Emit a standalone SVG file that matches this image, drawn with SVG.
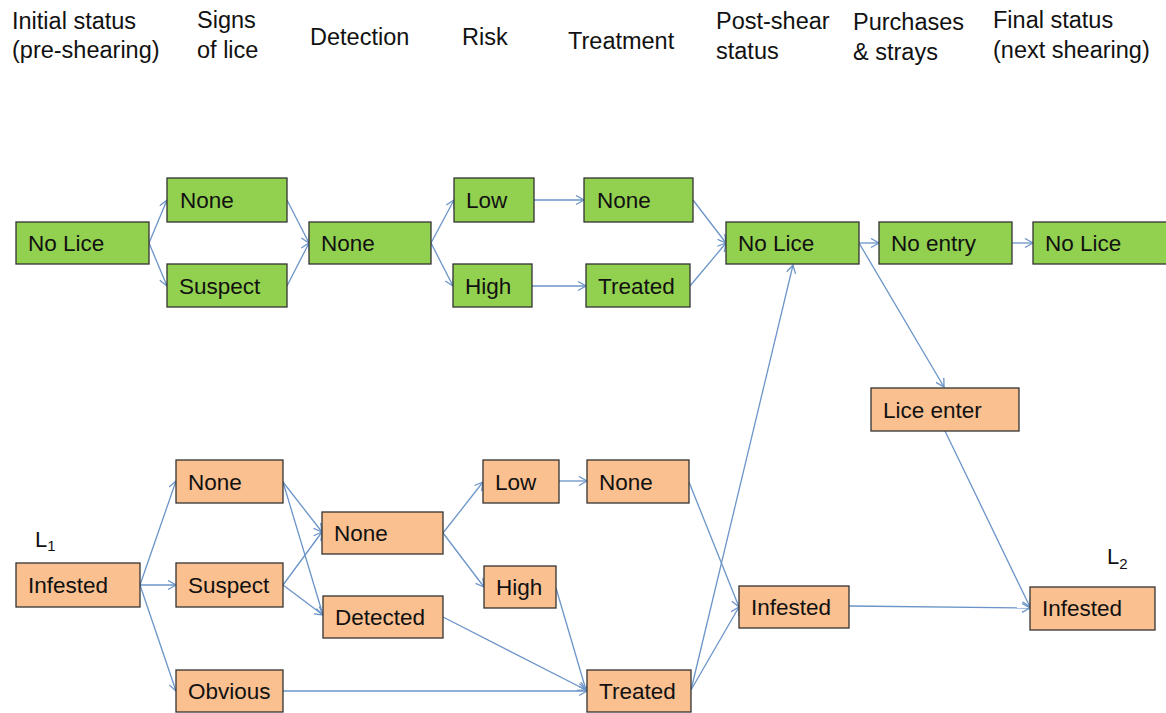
<svg xmlns="http://www.w3.org/2000/svg" width="1166" height="713" viewBox="0 0 1166 713">
<style>
text{font-family:"Liberation Sans",Arial,sans-serif;fill:#111}
.h{font-size:23.5px}
.t{font-size:22.5px}
.g{fill:#92d050;stroke:#333;stroke-width:1.3}
.o{fill:#fac090;stroke:#333;stroke-width:1.3}
.c line{stroke:#6b94c8;stroke-width:1.3;fill:none;marker-end:url(#a)}
</style>
<defs>
<marker id="a" markerUnits="userSpaceOnUse" markerWidth="12" markerHeight="12" refX="9" refY="5" orient="auto">
<path d="M1,0.5 L9,5 L1,9.5" fill="none" stroke="#6b94c8" stroke-width="1.3"/>
</marker>
</defs>
<rect width="1166" height="713" fill="#fff"/>
<g id="headers">
<text class="h" x="12" y="29">Initial status</text>
<text class="h" x="12" y="58">(pre-shearing)</text>
<text class="h" x="197" y="28">Signs</text>
<text class="h" x="197" y="58">of lice</text>
<text class="h" x="310" y="45">Detection</text>
<text class="h" x="462" y="45">Risk</text>
<text class="h" x="568" y="49">Treatment</text>
<text class="h" x="716" y="29">Post-shear</text>
<text class="h" x="716" y="59">status</text>
<text class="h" x="853" y="30">Purchases</text>
<text class="h" x="853" y="60">&amp; strays</text>
<text class="h" x="993" y="28">Final status</text>
<text class="h" x="993" y="58">(next shearing)</text>
</g>
<g id="labels">
<text x="35" y="547" font-size="22">L<tspan font-size="15" dy="4">1</tspan></text>
<text x="1107" y="564" font-size="22">L<tspan font-size="15" dy="5">2</tspan></text>
</g>
<g id="connectors" class="c">
<line x1="149" y1="243" x2="167" y2="200"/>
<line x1="149" y1="243" x2="167" y2="286"/>
<line x1="287" y1="200" x2="309" y2="243"/>
<line x1="287" y1="286" x2="309" y2="243"/>
<line x1="431" y1="243" x2="454" y2="200"/>
<line x1="431" y1="243" x2="453" y2="286"/>
<line x1="534" y1="200" x2="584" y2="200"/>
<line x1="532" y1="286" x2="586" y2="286"/>
<line x1="693" y1="200" x2="726" y2="243"/>
<line x1="690" y1="286" x2="726" y2="243"/>
<line x1="859" y1="243" x2="879" y2="243"/>
<line x1="1012" y1="243" x2="1033" y2="243"/>
<line x1="859" y1="243" x2="944" y2="387"/>
<line x1="945" y1="431" x2="1030" y2="607"/>
<line x1="849" y1="606" x2="1030" y2="608"/>
<line x1="140" y1="585" x2="176" y2="481"/>
<line x1="140" y1="585" x2="176" y2="585"/>
<line x1="140" y1="585" x2="176" y2="691"/>
<line x1="283" y1="482" x2="322" y2="532"/>
<line x1="283" y1="482" x2="323" y2="615"/>
<line x1="283" y1="585" x2="322" y2="532"/>
<line x1="283" y1="585" x2="323" y2="615"/>
<line x1="283" y1="691" x2="587" y2="691"/>
<line x1="443" y1="533" x2="483" y2="482"/>
<line x1="443" y1="533" x2="484" y2="587"/>
<line x1="559" y1="481" x2="587" y2="481"/>
<line x1="556" y1="588" x2="586" y2="690"/>
<line x1="443" y1="617" x2="586" y2="690"/>
<line x1="689" y1="482" x2="739" y2="607"/>
<line x1="691" y1="690" x2="793" y2="265"/>
<line x1="691" y1="690" x2="739" y2="607"/>
</g>
<g id="n_nolice0"><rect class="g" x="16" y="222" width="133" height="42"/><text class="t" x="28" y="251">No Lice</text></g>
<g id="n_none1"><rect class="g" x="167" y="178" width="120" height="44"/><text class="t" x="180" y="208">None</text></g>
<g id="n_suspect1"><rect class="g" x="167" y="264" width="120" height="43"/><text class="t" x="179" y="294">Suspect</text></g>
<g id="n_none2"><rect class="g" x="309" y="222" width="122" height="42"/><text class="t" x="321" y="251">None</text></g>
<g id="n_low3"><rect class="g" x="454" y="178" width="80" height="44"/><text class="t" x="466" y="208">Low</text></g>
<g id="n_high3"><rect class="g" x="453" y="264" width="79" height="43"/><text class="t" x="465" y="294">High</text></g>
<g id="n_none4"><rect class="g" x="584" y="178" width="109" height="44"/><text class="t" x="597" y="208">None</text></g>
<g id="n_treated4"><rect class="g" x="586" y="264" width="104" height="43"/><text class="t" x="598" y="294">Treated</text></g>
<g id="n_nolice5"><rect class="g" x="726" y="222" width="133" height="42"/><text class="t" x="738" y="251">No Lice</text></g>
<g id="n_noentry6"><rect class="g" x="879" y="222" width="133" height="42"/><text class="t" x="891" y="251">No entry</text></g>
<g id="n_nolice7"><rect class="g" x="1033" y="222" width="140" height="42"/><text class="t" x="1045" y="251">No Lice</text></g>
<g id="o_infested0"><rect class="o" x="16" y="563" width="124" height="44"/><text class="t" x="28" y="593">Infested</text></g>
<g id="o_none1"><rect class="o" x="176" y="460" width="107" height="43"/><text class="t" x="188" y="490">None</text></g>
<g id="o_suspect1"><rect class="o" x="176" y="563" width="107" height="44"/><text class="t" x="188" y="593">Suspect</text></g>
<g id="o_obvious1"><rect class="o" x="176" y="670" width="107" height="42"/><text class="t" x="188" y="699">Obvious</text></g>
<g id="o_none2"><rect class="o" x="322" y="512" width="121" height="42"/><text class="t" x="334" y="541">None</text></g>
<g id="o_detected2"><rect class="o" x="323" y="596" width="120" height="42"/><text class="t" x="335" y="625">Detected</text></g>
<g id="o_low3"><rect class="o" x="483" y="460" width="76" height="43"/><text class="t" x="495" y="490">Low</text></g>
<g id="o_high3"><rect class="o" x="484" y="566" width="72" height="42"/><text class="t" x="496" y="595">High</text></g>
<g id="o_none4"><rect class="o" x="587" y="460" width="102" height="43"/><text class="t" x="599" y="490">None</text></g>
<g id="o_treated4"><rect class="o" x="587" y="670" width="104" height="42"/><text class="t" x="599" y="699">Treated</text></g>
<g id="o_infested5"><rect class="o" x="739" y="586" width="110" height="42"/><text class="t" x="751" y="615">Infested</text></g>
<g id="o_liceenter6"><rect class="o" x="871" y="388" width="148" height="43"/><text class="t" x="883" y="418">Lice enter</text></g>
<g id="o_infested7"><rect class="o" x="1030" y="587" width="125" height="43"/><text class="t" x="1042" y="616">Infested</text></g>
</svg>
